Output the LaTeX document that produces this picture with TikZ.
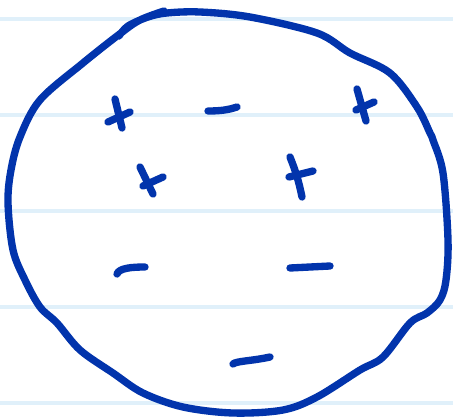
\documentclass[tikz,border=0pt]{standalone}
\definecolor{ink}{RGB}{2,52,172}
\definecolor{paperline}{RGB}{224,240,250}
\tikzset{
  inkstroke/.style={draw=ink, line width=5.5pt, line cap=round, line join=round},
  ruled/.style={draw=paperline, line width=3pt}
}
\begin{document}
\begin{tikzpicture}[x=0.75pt,y=-0.75pt]
\useasboundingbox (0,0) rectangle (453,417);
\fill[white] (0,0) rectangle (453,417);
% paper lines
\foreach \yy in {19,115,211,307,403} {
  \draw[ruled] (0,\yy) -- (453,\yy);
}
% outline
\draw[inkstroke] plot[smooth, tension=0.55] coordinates {
 (164,11) (140,20) (121,33) (83,63) (40,100) (20,137) (11,170) (8,203) (13,250) (25,280)
 (40,307) (57,323) (80,350) (113,373) (143,393) (183,407) (233,413) (283,410)
 (317,397) (360,370) (383,357) (410,323) (427,313) (440,300) (446,280)
 (448,240) (443,173) (433,140) (430,133) (417,107) (390,73) (350,53) (317,33)
 (250,17) (200,12) (167,13) (148,17) (128,26) (119,36)
};
% plus signs
\draw[inkstroke] (115,99) -- (122,128);
\draw[inkstroke] (108,122) -- (130,112);
\draw[inkstroke] (357,89) -- (366,121);
\draw[inkstroke] (356,110) -- (374,102);
\draw[inkstroke] (140,167) -- (153,194);
\draw[inkstroke] (143,186) -- (163,177);
\draw[inkstroke] (290,157) to[bend left=5] (302,197);
\draw[inkstroke] (289,177) -- (313,171);
% minus signs
\draw[inkstroke] (208,111) .. controls (220,111) and (228,110) .. (237,107);
\draw[inkstroke] (117,274) .. controls (119,268) and (132,267) .. (145,267);
\draw[inkstroke] (290,268) -- (330,266);
\draw[inkstroke] (233,364) .. controls (236,361) and (252,361) .. (270,357);
\end{tikzpicture}
\end{document}
